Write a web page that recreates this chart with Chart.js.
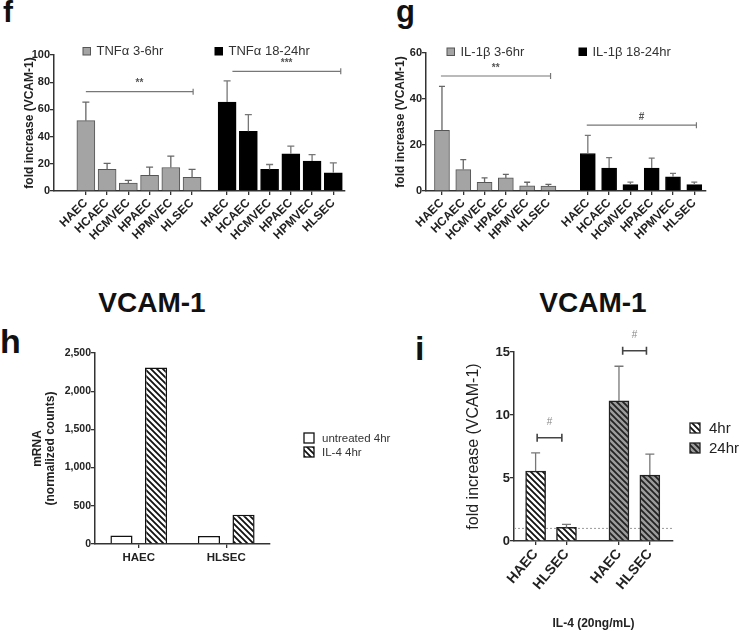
<!DOCTYPE html>
<html>
<head>
<meta charset="utf-8">
<script src="https://cdn.jsdelivr.net/npm/chart.js@4.4.1/dist/chart.umd.min.js"></script>
<style>
body{margin:0;background:#fff;width:746px;height:635px;position:relative;overflow:hidden;font-family:"Liberation Sans",Arial,sans-serif;color:#111}
canvas{position:absolute}
.lbl{position:absolute;font-weight:bold;line-height:1;white-space:nowrap}
</style>
</head>
<body>
<div class="lbl" style="left:3px;top:-3px;font-size:30px">f</div>
<div class="lbl" style="left:396px;top:-4px;font-size:31px">g</div>
<div class="lbl" style="left:0px;top:324px;font-size:34px">h</div>
<div class="lbl" style="left:415px;top:331px;font-size:34px">i</div>
<div class="lbl" style="left:52px;top:289px;width:200px;text-align:center;font-size:28px">VCAM-1</div>
<div class="lbl" style="left:493px;top:289px;width:200px;text-align:center;font-size:28px">VCAM-1</div>

<canvas id="cf" width="373" height="250" style="left:0;top:0"></canvas>
<canvas id="cg" width="373" height="250" style="left:373px;top:0"></canvas>
<canvas id="ch" width="420" height="260" style="left:0;top:320px"></canvas>
<canvas id="ci" width="373" height="315" style="left:373px;top:320px"></canvas>

<script>
// ---- data ----
var cells = ['HAEC', 'HCAEC', 'HCMVEC', 'HPAEC', 'HPMVEC', 'HLSEC'];

var tnfEarly = [51.7, 15.9, 5.9, 11.5, 17.3, 10.0];
var tnfEarlyErr = [13.7, 4.4, 1.9, 6.1, 8.3, 5.9];
var tnfLate = [65.4, 43.9, 15.9, 27.3, 22.0, 13.4];
var tnfLateErr = [15.6, 12.2, 3.6, 5.7, 4.8, 7.3];

var il1Early = [26.4, 9.3, 3.8, 5.7, 2.3, 2.1];
var il1EarlyErr = [19.1, 4.3, 1.9, 1.5, 1.5, 0.8];
var il1Late = [16.3, 10.0, 2.8, 10.0, 6.2, 2.8];
var il1LateErr = [7.9, 4.5, 1.1, 4.3, 1.5, 1.1];

var hCells = ['HAEC', 'HLSEC'];
var untreated4 = [110, 105];
var il4at4 = [2310, 382];

var iCells = ['HAEC', 'HLSEC'];
var il4hr = [5.55, 1.08];
var il4hrErr = [1.45, 0.24];
var il24hr = [11.12, 5.23];
var il24hrErr = [2.75, 1.67];

// significance bars: from/to on the x scale, y in data units
var fSig = [{from: 0, to: 5.05, y: 73, text: '**'}, {from: 6.9, to: 12, y: 88, text: '***'}];
var gSig = [{from: -0.05, to: 5.1, y: 50, text: '**'}, {from: 6.8, to: 11.95, y: 28.6, text: '#'}];
var iSig = [{from: 0.05, to: 0.85, y: 8.2, text: '#'}, {from: 2.82, to: 3.59, y: 15.1, text: '#'}];

Chart.defaults.font.family = '"Liberation Sans", Arial, sans-serif';
Chart.defaults.color = '#222';

var FONT = '"Liberation Sans", Arial, sans-serif';

function stripes(bg, fg, size, lw) {
  var c = document.createElement('canvas');
  c.width = c.height = size;
  var x = c.getContext('2d');
  x.fillStyle = bg;
  x.fillRect(0, 0, size, size);
  x.strokeStyle = fg;
  x.lineWidth = lw;
  x.beginPath();
  for (var k = -1; k <= 1; k++) {
    x.moveTo(-1, k * size - 1);
    x.lineTo(size + 1, size + k * size + 1);
  }
  x.stroke();
  return x.createPattern(c, 'repeat');
}

var errorBars = {
  id: 'errorBars',
  afterDatasetsDraw: function (chart) {
    var ctx = chart.ctx, y = chart.scales.y;
    chart.data.datasets.forEach(function (ds, di) {
      if (!ds.errors) return;
      var meta = chart.getDatasetMeta(di);
      ctx.save();
      ctx.strokeStyle = ds.errColor || '#666';
      ctx.lineWidth = 1.3;
      meta.data.forEach(function (bar, i) {
        var v = ds.data[i].y;
        var top = y.getPixelForValue(v + ds.errors[i]);
        ctx.beginPath();
        ctx.moveTo(bar.x, bar.y);
        ctx.lineTo(bar.x, top);
        ctx.moveTo(bar.x - ds.cap / 2, top);
        ctx.lineTo(bar.x + ds.cap / 2, top);
        ctx.stroke();
      });
      ctx.restore();
    });
  }
};

function sigPlugin(items, st) {
  return {
    id: 'sig',
    afterDatasetsDraw: function (chart) {
      var x = chart.scales.x, y = chart.scales.y, ctx = chart.ctx;
      ctx.save();
      ctx.strokeStyle = st.color;
      ctx.lineWidth = st.width;
      items.forEach(function (s) {
        var x0 = x.getPixelForValue(s.from), x1 = x.getPixelForValue(s.to), yy = y.getPixelForValue(s.y);
        ctx.beginPath();
        ctx.moveTo(x0, yy);
        ctx.lineTo(x1, yy);
        ctx.moveTo(x1, yy - st.cap);
        ctx.lineTo(x1, yy + st.cap);
        if (st.both) {
          ctx.moveTo(x0, yy - st.cap);
          ctx.lineTo(x0, yy + st.cap);
        }
        ctx.stroke();
        ctx.fillStyle = st.textColor;
        ctx.font = st.font;
        ctx.textAlign = 'center';
        ctx.textBaseline = 'middle';
        ctx.fillText(s.text, (x0 + x1) / 2, yy - st.lift);
      });
      ctx.restore();
    }
  };
}

// legend boxes drawn at fixed spots, text and fill taken from the datasets
function legendPlugin(spots, st) {
  return {
    id: 'boxLegend',
    afterDraw: function (chart) {
      var ctx = chart.ctx;
      spots.forEach(function (p, i) {
        var ds = chart.data.datasets[i];
        ctx.save();
        ctx.fillStyle = ds.backgroundColor;
        ctx.fillRect(p.x, p.y, st.size, st.size);
        ctx.strokeStyle = ds.borderColor;
        ctx.lineWidth = st.lw;
        ctx.strokeRect(p.x, p.y, st.size, st.size);
        ctx.fillStyle = st.color;
        ctx.font = st.font;
        ctx.textBaseline = 'middle';
        ctx.fillText(ds.label, p.x + st.size + st.gap, p.y + st.size / 2 + 0.5);
        ctx.restore();
      });
    }
  };
}

function axisGrid() {
  return {drawOnChartArea: false, drawTicks: true, tickLength: 4, color: '#333', lineWidth: 1.3, offset: false};
}

function cytokineChart(id, early, earlyErr, late, lateErr, names, cfg) {
  var xs = [];
  var pts1 = early.map(function (v, i) { xs.push(i); return {x: i, y: v}; });
  var pts2 = late.map(function (v, i) { xs.push(i + cfg.gap); return {x: i + cfg.gap, y: v}; });
  var labels = cells.concat(cells);
  return new Chart(document.getElementById(id), {
    type: 'bar',
    data: {
      datasets: [
        {label: names[0], data: pts1, errors: earlyErr, cap: cfg.cap, backgroundColor: '#a4a4a4', borderColor: '#555', borderWidth: 1, barThickness: cfg.bar, grouped: false},
        {label: names[1], data: pts2, errors: lateErr, cap: cfg.cap, backgroundColor: '#000', borderColor: '#000', borderWidth: 1, barThickness: cfg.bar, grouped: false, errColor: '#777'}
      ]
    },
    options: {
      responsive: false,
      animation: false,
      layout: {padding: cfg.pad},
      plugins: {legend: {display: false}, tooltip: {enabled: false}},
      scales: {
        x: {
          type: 'linear', min: cfg.xmin, max: cfg.xmax, offset: false,
          afterBuildTicks: function (a) { a.ticks = xs.map(function (v) { return {value: v}; }); },
          ticks: {autoSkip: false, minRotation: 45, maxRotation: 45, padding: 1, font: {size: 12, weight: 'bold'},
            callback: function (v, i) { return labels[i]; }},
          grid: axisGrid(),
          border: {color: '#333', width: 1.5},
          afterFit: function (s) { s.height = 59; }
        },
        y: {
          min: 0, max: cfg.ymax,
          ticks: {stepSize: 20, padding: 0, font: {size: 11, weight: 'bold'}},
          grid: axisGrid(),
          border: {color: '#333', width: 1.5},
          title: {display: true, text: 'fold increase (VCAM-1)', font: {size: 12, weight: 'bold'}, padding: {top: 4, bottom: 4}},
          afterFit: function (s) { s.width = cfg.yw; }
        }
      }
    },
    plugins: [errorBars,
      sigPlugin(cfg.sig, {color: '#777', width: 1.2, cap: 3, both: false, textColor: '#555', font: 'bold 10px ' + FONT, lift: 8}),
      legendPlugin(cfg.legend, {size: 7.5, lw: 1, gap: 6, color: '#333', font: '13px ' + FONT})]
  });
}

cytokineChart('cf', tnfEarly, tnfEarlyErr, tnfLate, tnfLateErr, ['TNF\u03b1 3-6hr', 'TNF\u03b1 18-24hr'], {
  gap: 6.65, xmin: -1.5, xmax: 12.2, ymax: 100, bar: 18, cap: 7, yw: 36,
  pad: {left: 18, right: 28, top: 55, bottom: 0},
  sig: fSig,
  legend: [{x: 83, y: 47.5}, {x: 215, y: 47.5}]
});

cytokineChart('cg', il1Early, il1EarlyErr, il1Late, il1LateErr, ['IL-1\u03b2 3-6hr', 'IL-1\u03b2 18-24hr'], {
  gap: 6.85, xmin: -0.75, xmax: 12.4, ymax: 60, bar: 15, cap: 6, yw: 37,
  pad: {left: 16, right: 40, top: 53, bottom: 0},
  sig: gSig,
  legend: [{x: 74, y: 48}, {x: 206, y: 48}]
});

// ---- panel h ----
new Chart(document.getElementById('ch'), {
  type: 'bar',
  data: {
    labels: hCells,
    datasets: [
      {label: 'untreated 4hr', data: untreated4, backgroundColor: '#fff', borderColor: '#111', borderWidth: 1.5},
      {label: 'IL-4 4hr', data: il4at4, backgroundColor: stripes('#fff', '#111', 6, 1.8), borderColor: '#111', borderWidth: 1.5}
    ]
  },
  options: {
    responsive: false,
    animation: false,
    categoryPercentage: 0.79,
    barPercentage: 0.64,
    layout: {padding: {left: 27, right: 150, top: 33, bottom: 0}},
    plugins: {legend: {display: false}, tooltip: {enabled: false}},
    scales: {
      x: {
        ticks: {padding: 3, font: {size: 11.5, weight: 'bold'}},
        grid: axisGrid(),
        border: {color: '#333', width: 1.5},
        afterFit: function (s) { s.height = 36; }
      },
      y: {
        min: 0, max: 2500,
        ticks: {stepSize: 500, padding: 0, font: {size: 10.5, weight: 'bold'}},
        grid: axisGrid(),
        border: {color: '#333', width: 1.5},
        title: {display: true, text: ['mRNA', '(normalized counts)'], font: {size: 12, weight: 'bold', lineHeight: 1.1}, padding: {top: 4, bottom: 4}},
        afterFit: function (s) { s.width = 68; }
      }
    }
  },
  plugins: [legendPlugin([{x: 304, y: 113}, {x: 304, y: 127}], {size: 10, lw: 1.3, gap: 8, color: '#333', font: '11.5px ' + FONT})]
});

// ---- panel i ----
var iX = [0, 1, 2.7, 3.7];
var iLabels = iCells.concat(iCells);
new Chart(document.getElementById('ci'), {
  type: 'bar',
  data: {
    datasets: [
      {label: '4hr', data: il4hr.map(function (v, i) { return {x: iX[i], y: v}; }), errors: il4hrErr, cap: 9,
        backgroundColor: stripes('#fff', '#111', 6, 1.8), borderColor: '#222', borderWidth: 1.5, barThickness: 20, grouped: false, errColor: '#777'},
      {label: '24hr', data: il24hr.map(function (v, i) { return {x: iX[i + 2], y: v}; }), errors: il24hrErr, cap: 9,
        backgroundColor: stripes('#9c9c9c', '#222', 6, 1.8), borderColor: '#222', borderWidth: 1.5, barThickness: 20, grouped: false, errColor: '#777'}
    ]
  },
  options: {
    responsive: false,
    animation: false,
    layout: {padding: {left: 87, right: 73, top: 32, bottom: 0}},
    plugins: {legend: {display: false}, tooltip: {enabled: false}},
    scales: {
      x: {
        type: 'linear', min: -0.7, max: 4.45, offset: false,
        afterBuildTicks: function (a) { a.ticks = iX.map(function (v) { return {value: v}; }); },
        ticks: {autoSkip: false, minRotation: 50, maxRotation: 50, padding: 1, font: {size: 14, weight: 'bold'},
          callback: function (v, i) { return iLabels[i]; }},
        grid: axisGrid(),
        border: {color: '#333', width: 1.5},
        title: {display: true, text: 'IL-4 (20ng/mL)', font: {size: 12, weight: 'bold'}, padding: {top: 4, bottom: 4}},
        afterFit: function (s) { s.height = 94; }
      },
      y: {
        min: 0, max: 15,
        ticks: {stepSize: 5, padding: 0, font: {size: 13, weight: 'bold'}},
        grid: axisGrid(),
        border: {color: '#333', width: 1.5},
        title: {display: true, text: 'fold increase (VCAM-1)', font: {size: 16}, padding: {top: 4, bottom: 4}},
        afterFit: function (s) { s.width = 54; }
      }
    }
  },
  plugins: [
    {
      id: 'baseline',
      beforeDatasetsDraw: function (chart) {
        var ctx = chart.ctx, a = chart.chartArea, yy = chart.scales.y.getPixelForValue(1);
        ctx.save();
        ctx.strokeStyle = '#999';
        ctx.lineWidth = 1;
        ctx.setLineDash([2, 2]);
        ctx.beginPath();
        ctx.moveTo(a.left, yy);
        ctx.lineTo(a.right, yy);
        ctx.stroke();
        ctx.restore();
      }
    },
    errorBars,
    sigPlugin(iSig, {color: '#444', width: 1.6, cap: 4, both: true, textColor: '#888', font: '10px ' + FONT, lift: 15}),
    legendPlugin([{x: 317, y: 103}, {x: 317, y: 123}], {size: 10, lw: 1.3, gap: 9, color: '#222', font: '15px ' + FONT})
  ]
});
</script>
</body>
</html>
